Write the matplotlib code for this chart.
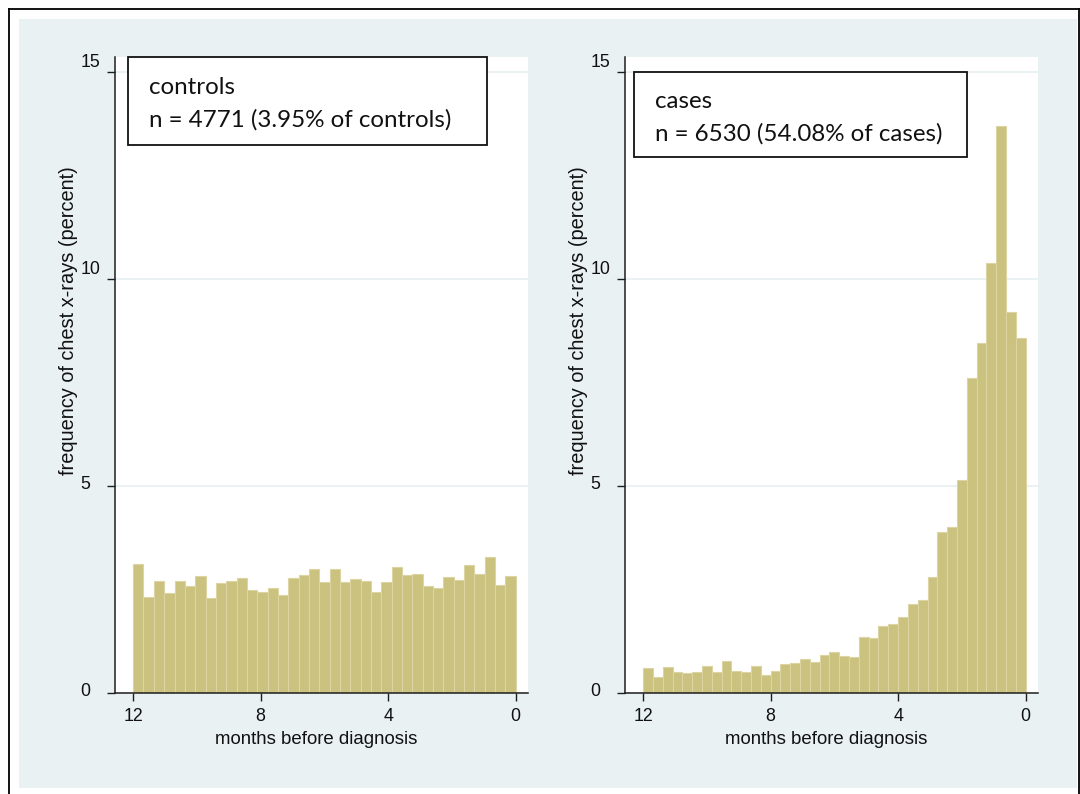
import numpy as np
import matplotlib
matplotlib.use("Agg")
import matplotlib.pyplot as plt
import matplotlib.transforms as mtransforms
from matplotlib.patches import Rectangle
from matplotlib.lines import Line2D

# Percent of chest x-rays per bin, ordered from 12 months before diagnosis to 0
controls_pct = [3.12, 2.32, 2.71, 2.42, 2.71, 2.60, 2.82, 2.31, 2.67, 2.70,
                2.79, 2.49, 2.45, 2.55, 2.38, 2.79, 2.85, 3.01, 2.68, 2.99,
                2.68, 2.75, 2.70, 2.44, 2.68, 3.04, 2.85, 2.88, 2.58, 2.54,
                2.80, 2.74, 3.09, 2.88, 3.29, 2.61, 2.83]
cases_pct = [0.60, 0.39, 0.64, 0.51, 0.48, 0.51, 0.66, 0.51, 0.78, 0.55,
             0.52, 0.67, 0.45, 0.55, 0.70, 0.72, 0.82, 0.76, 0.93, 0.99,
             0.90, 0.87, 1.35, 1.33, 1.62, 1.68, 1.85, 2.15, 2.26, 2.81,
             3.89, 4.02, 5.16, 7.62, 8.45, 10.40, 13.70, 9.20, 8.57]

group_names = ["controls", "cases"]
group_n = [4771, 6530]
group_share = [3.95, 54.08]

month_ticks = [12, 8, 4, 0]
pct_ticks = [0, 5, 10, 15]
x_title = "months before diagnosis"
y_title = "frequency of chest x-rays (percent)"

# Style
BG = "#E9F1F3"
BAR_FACE = "#CAC27E"
BAR_EDGE = "#DCD5A3"
AXIS_COL = "#1E1E1E"
TICK_FONT = "Liberation Sans"
BOX_FONT = "Lato"

W, H = 1080, 794
fig = plt.figure(figsize=(W / 100, H / 100), dpi=100)
fig.patch.set_facecolor("white")


def fx(x):
    return x / W


def fy(y):
    return 1 - y / H


# graph region and outer frame
fig.add_artist(Rectangle((fx(19), fy(788)), fx(1077) - fx(19), fy(19) - fy(788),
                         transform=fig.transFigure, facecolor=BG,
                         edgecolor="none", zorder=0))
for xs, ys in [([9, 9], [9, 800]), ([9, 1078.5], [9, 9]), ([1078.5, 1078.5], [9, 800])]:
    fig.add_artist(Line2D([fx(v) for v in xs], [fy(v) for v in ys],
                          transform=fig.transFigure, color="black", lw=1.3,
                          zorder=1))

AX_TOP, AX_BOT, AX_W = 57.0, 693.3, 413.0
panels = [
    dict(x0=115, data=controls_pct, box=(128, 57, 487, 145), text_x=149,
         baselines=(93.5, 126.5)),
    dict(x0=625, data=cases_pct, box=(634, 72, 967, 157), text_x=655,
         baselines=(107.5, 140.5)),
]

for i, p in enumerate(panels):
    ax = fig.add_axes([fx(p["x0"]), fy(AX_BOT), AX_W / W,
                       (AX_BOT - AX_TOP) / H])
    ax.set_facecolor("white")
    vals = np.asarray(p["data"])
    n = len(vals)
    width = 12.0 / n
    centers = 12.0 - (np.arange(n) + 0.5) * width
    ax.bar(centers, vals, width=width, color=BAR_FACE, edgecolor=BAR_EDGE,
           linewidth=0.8, zorder=2)

    ax.set_xlim(12.57, -0.39)
    ax.set_ylim(0, 15.362)

    for s in ["top", "right"]:
        ax.spines[s].set_visible(False)
    for s in ["left", "bottom"]:
        ax.spines[s].set_color(AXIS_COL)
        ax.spines[s].set_linewidth(1.1)

    ax.set_axisbelow(True)
    ax.yaxis.grid(True, color=BG, linewidth=1.3)
    ax.xaxis.grid(False)

    ax.set_xticks(month_ticks)
    ax.set_xticklabels([str(t) for t in month_ticks], fontfamily=TICK_FONT,
                       fontsize=12.8)
    ax.set_yticks(pct_ticks)
    ax.set_yticklabels([str(t) for t in pct_ticks], fontfamily=TICK_FONT,
                       fontsize=12.8)
    ax.tick_params(axis="x", direction="out", length=6.0, width=1.0,
                   color=AXIS_COL, pad=4.5, labelcolor="#111111")
    ax.tick_params(axis="y", direction="out", length=6.0, width=1.0,
                   color=AXIS_COL, pad=19.0, labelcolor="#111111")
    for lab in ax.get_yticklabels():
        lab.set_horizontalalignment("left")
        dy = 11.5 if len(lab.get_text()) > 1 else 4.0
        off = mtransforms.ScaledTranslation(0, dy / 100, fig.dpi_scale_trans)
        lab.set_transform(lab.get_transform() + off)

    ax.set_xlabel(x_title, fontfamily=TICK_FONT, fontsize=13.4,
                  color="#111111", va="center")
    ax.xaxis.set_label_coords(0.488, -0.0725)
    ax.set_ylabel(y_title, fontfamily=TICK_FONT, fontsize=14.4,
                  color="#111111", va="center")
    ax.yaxis.set_label_coords(-0.112, 0.585)

    # annotation box
    bx0, by0, bx1, by1 = p["box"]
    fig.add_artist(Rectangle((fx(bx0), fy(by1)), fx(bx1) - fx(bx0),
                             fy(by0) - fy(by1), transform=fig.transFigure,
                             facecolor="white", edgecolor="#111111", lw=1.3,
                             zorder=5))
    line1 = group_names[i]
    line2 = f"n = {group_n[i]} ({group_share[i]:.2f}% of {group_names[i]})"
    for txt, base in zip([line1, line2], p["baselines"]):
        fig.text(fx(p["text_x"]), fy(base), txt, fontfamily=BOX_FONT,
                 fontsize=17.4, color="#111111", ha="left", va="baseline",
                 zorder=6)

fig.savefig("out.png", dpi=100)
